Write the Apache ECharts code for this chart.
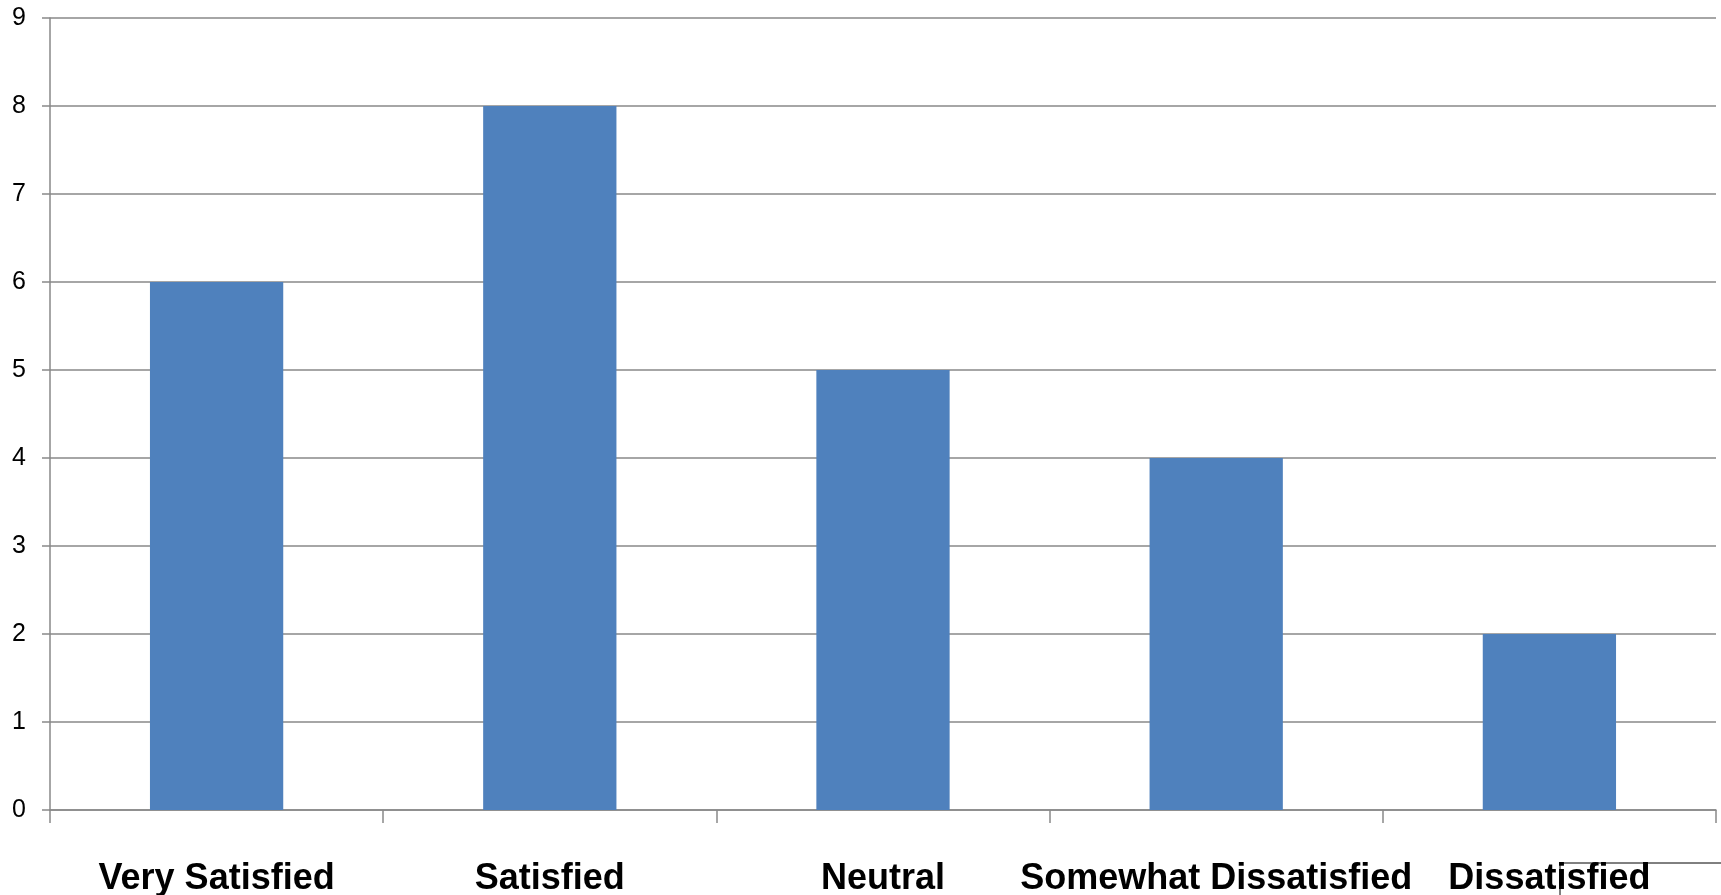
<!DOCTYPE html>
<html><head><meta charset="utf-8">
<script src="https://cdn.jsdelivr.net/npm/echarts@6/dist/echarts.min.js"></script>
<style>html,body{margin:0;padding:0;background:#fff;}#c{width:1721px;height:895px;}</style>
</head><body><div id="c"></div>
<script>
const categories = ["Very Satisfied", "Satisfied", "Neutral", "Somewhat Dissatisfied", "Dissatisfied"];
const values = [6, 8, 5, 4, 2];
const yTicks = [0, 1, 2, 3, 4, 5, 6, 7, 8, 9];

const chart = echarts.init(document.getElementById('c'));
const lineColor = '#898989';
chart.setOption({
  animation: false,
  grid: { left: 50, right: 5, top: 18, bottom: 85, containLabel: false, outerBoundsMode: 'none' },
  xAxis: {
    type: 'category', data: categories,
    axisLine: { lineStyle: { color: lineColor, width: 1.5 } },
    axisTick: { show: true, length: 13, alignWithLabel: false, lineStyle: { color: lineColor, width: 1.5 } },
    axisLabel: { color: '#000', fontFamily: 'Liberation Sans', fontWeight: 'bold', fontSize: 36, margin: 51, interval: 0 }
  },
  yAxis: {
    type: 'value', min: yTicks[0], max: yTicks[yTicks.length - 1], interval: 1,
    axisLine: { show: true, lineStyle: { color: lineColor, width: 1.5 } },
    axisTick: { show: true, length: 8, lineStyle: { color: lineColor, width: 1.5 } },
    splitLine: { lineStyle: { color: lineColor, width: 1.5 } },
    axisLabel: { color: '#000', fontFamily: 'Liberation Sans', fontSize: 25, margin: 24 }
  },
  series: [{
    type: 'bar', data: values, barWidth: '40%',
    itemStyle: { color: '#4F81BD' }
  }],
  graphic: [{
    type: 'polyline', silent: true,
    shape: { points: [[1721, 863], [1560, 863], [1560, 895]] },
    style: { stroke: '#000', lineWidth: 1, fill: null }
  }]
});
</script></body></html>
